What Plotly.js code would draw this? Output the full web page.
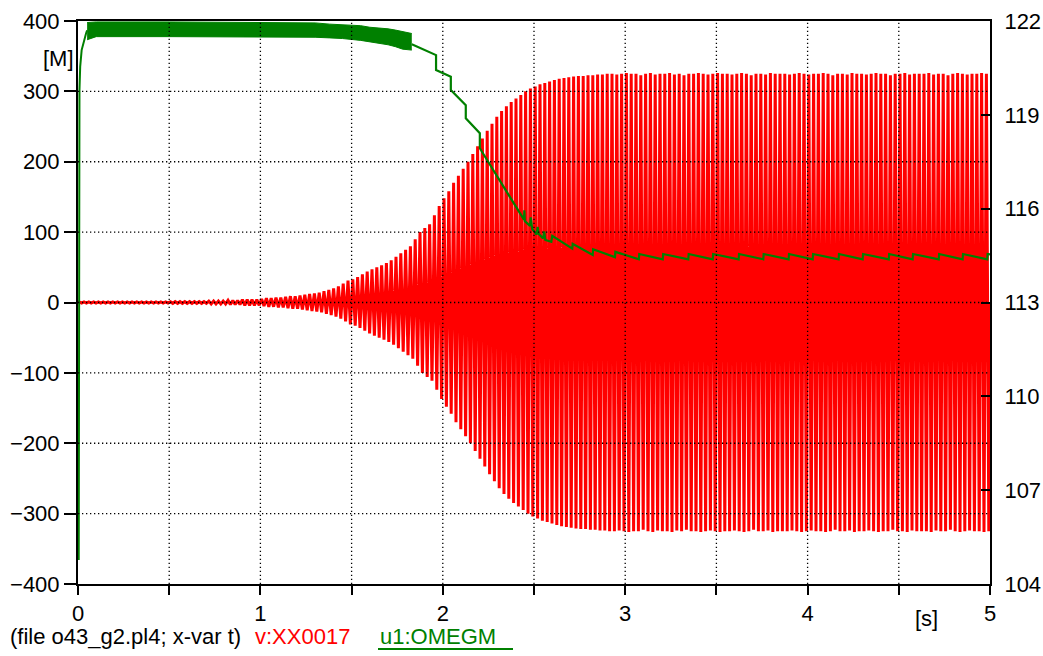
<!DOCTYPE html>
<html><head><meta charset="utf-8">
<script src="https://cdn.plot.ly/plotly-3.0.1.min.js"></script>
<style>html,body{margin:0;padding:0;background:#fff}#chart{width:1043px;height:656px}</style>
</head><body><div id="chart"></div>
<script>
// ---- axes ----
const tStart = 0, tEnd = 5;
const xTickVals = [0, 0.5, 1, 1.5, 2, 2.5, 3, 3.5, 4, 4.5, 5];
const xTickText = ['0', '', '1', '', '2', '', '3', '', '4', '', '5'];
const yTickVals = [-400, -300, -200, -100, 0, 100, 200, 300, 400];
const y2TickVals = [104, 107, 110, 113, 116, 119, 122];

// ---- v:XX0017 : peak amplitude of each oscillation cycle, read from the envelope ----
const vCycleAmp = [
  0.8,0.8,0.8,0.8,0.8,0.8,0.8,0.8,0.8,0.8,0.8,0.8,0.8,0.8,0.8,0.8,0.8,0.8,0.8,
  1.2,1.2,1.2,1.2,1.2,1.2,1.2,1.2,
  2,2,2,2, 3,3,3, 4,4,4,4,
  5,6,6,7, 7,8,9,9, 10,11,12,13, 14,16,18,
  20,23,27,31,33,36,40,44,47,50,
  53,56,60,65,70,75,80,90,100,106,
  111,124,137,148,158,170,180,190,200,211,
  222,233,244,254,264,272,279,285,290,295,
  300,304,307,310,312,314,316,318,319,320,
  321,322,
  322,323,323,324,324,325,
  325,324,325,326,325,325,323,325,326,324,
  325,325,326,324,325,323,325,325,326,325,
  324,325,326,325,325,324,325,326,325,323,
  325,325,324,326,325,325,325,324,325,326,
  325,324,325,325,326,325,323,325,325,324,
  326,325,325,324,325,326,325,325,323,325,
  325,326,324,325,325,325,326,324,325,325,
  323,325,326,325,324,325,325,326,325
];

// ---- u1:OMEGM (right axis) ----
const omegaRiseT = [0.004, 0.005, 0.008, 0.012, 0.02, 0.044, 0.05];
const omegaRiseV = [104.77, 119.15, 119.8, 120.54, 121.07, 121.6, 121.7];
// fast ripple band: upper and lower limits
const omegaBandT  = [0.05, 0.1, 0.5, 1.0, 1.3, 1.38, 1.45, 1.55, 1.6, 1.65, 1.7, 1.74, 1.78, 1.83];
const omegaBandHi = [121.95, 121.97, 121.97, 121.96, 121.94, 121.9, 121.88, 121.85, 121.8, 121.78, 121.75, 121.71, 121.66, 121.6];
const omegaBandLo = [121.4, 121.5, 121.5, 121.5, 121.48, 121.46, 121.44, 121.38, 121.34, 121.3, 121.24, 121.18, 121.1, 121.07];
const omegaTailT = [1.83, 1.963, 1.963, 2.044, 2.044, 2.126, 2.126, 2.203, 2.203, 2.445, 2.447, 2.45, 2.478, 2.482, 2.49,
  2.514, 2.52, 2.525, 2.55, 2.556, 2.562, 2.595, 2.6, 2.71, 2.712, 2.822, 2.824, 2.944, 2.946, 3.075, 3.077,
  3.206, 3.208, 3.346, 3.348, 3.48, 3.482, 3.622, 3.624, 3.757, 3.759, 3.896, 3.898, 4.028, 4.03,
  4.17, 4.172, 4.302, 4.304, 4.445, 4.447, 4.576, 4.578, 4.719, 4.721, 4.85, 4.852, 4.985, 4.987, 5.0];
const omegaTailV = [121.26, 120.91, 120.43, 120.22, 119.79, 119.31, 118.89, 118.41, 117.93, 115.65, 115.95, 115.6, 115.45, 115.72, 115.35,
  115.17, 115.42, 115.2, 115.05, 115.27, 115.0, 114.94, 115.13, 114.72, 114.88, 114.52, 114.7, 114.45, 114.62, 114.38, 114.55,
  114.38, 114.55, 114.38, 114.55, 114.38, 114.55, 114.38, 114.55, 114.38, 114.55, 114.38, 114.55, 114.38, 114.55,
  114.38, 114.55, 114.38, 114.55, 114.38, 114.55, 114.38, 114.55, 114.38, 114.55, 114.38, 114.55, 114.38, 114.55, 114.54];

// ---- build the oscillating trace from cycle amplitudes ----
const nC = vCycleAmp.length, per = (tEnd - tStart) / nC;
const vT = [tStart], vV = [0];
vCycleAmp.forEach((a, k) => {
  vT.push(tStart + (k + 0.25) * per); vV.push(a);
  vT.push(tStart + (k + 0.75) * per); vV.push(-a);
});
vT.push(tEnd); vV.push(0);

const RED = '#ff0000', GREEN = '#008000';
const traces = [
  {x: vT, y: vV, type: 'scatter', mode: 'lines', line: {color: RED, width: 3}, hoverinfo: 'skip'},
  {x: omegaRiseT, y: omegaRiseV, yaxis: 'y2', type: 'scatter', mode: 'lines', line: {color: GREEN, width: 2}, hoverinfo: 'skip'},
  {x: omegaBandT, y: omegaBandLo, yaxis: 'y2', type: 'scatter', mode: 'lines', line: {color: GREEN, width: 1}, hoverinfo: 'skip'},
  {x: omegaBandT, y: omegaBandHi, yaxis: 'y2', type: 'scatter', mode: 'lines', fill: 'tonexty', fillcolor: GREEN, line: {color: GREEN, width: 1}, hoverinfo: 'skip'},
  {x: omegaTailT, y: omegaTailV, yaxis: 'y2', type: 'scatter', mode: 'lines', line: {color: GREEN, width: 2.2}, hoverinfo: 'skip'}
];

// plot box in pixels
const L = 78, R = 53, T = 21, B = 72, W = 1043, H = 656;
const pw = W - L - R, ph = H - T - B;
const px = x => (x - L) / pw;
const py = y => (H - B - y) / ph;

const gridLine = {color: '#000', width: 1.3, dash: '1.3px,2.7px'};
const shapes = [];
xTickVals.slice(1, -1).forEach(v => shapes.push({type: 'line', xref: 'x', yref: 'paper', x0: v, x1: v, y0: 0, y1: 1, line: gridLine, layer: 'above'}));
yTickVals.slice(1, -1).forEach(v => shapes.push({type: 'line', xref: 'paper', yref: 'y', x0: 0, x1: 1, y0: v, y1: v, line: gridLine, layer: 'above'}));
shapes.push({type: 'line', xref: 'paper', yref: 'paper', x0: px(378), x1: px(513), y0: py(649), y1: py(649), line: {color: GREEN, width: 2}});

const fnt = {family: 'Liberation Sans, Arial, sans-serif', size: 22, color: '#000'};
const annotations = [
  {text: '[M]', xref: 'paper', yref: 'paper', x: px(58), y: py(58), xanchor: 'center', yanchor: 'middle', showarrow: false, font: fnt},
  {text: '[s]', xref: 'paper', yref: 'paper', x: px(926), y: py(618), xanchor: 'center', yanchor: 'middle', showarrow: false, font: fnt},
  {text: '(file o43_g2.pl4; x-var t)', xref: 'paper', yref: 'paper', x: px(8), y: py(636), xanchor: 'left', yanchor: 'middle', showarrow: false, font: fnt},
  {text: 'v:XX0017', xref: 'paper', yref: 'paper', x: px(253), y: py(636), xanchor: 'left', yanchor: 'middle', showarrow: false, font: Object.assign({}, fnt, {color: RED})},
  {text: 'u1:OMEGM', xref: 'paper', yref: 'paper', x: px(378), y: py(636), xanchor: 'left', yanchor: 'middle', showarrow: false, font: Object.assign({}, fnt, {color: GREEN})}
];

const axisCommon = {showline: true, linewidth: 2, linecolor: '#000', tickcolor: '#000', tickwidth: 2,
  showgrid: false, zeroline: false, layer: 'above traces', fixedrange: true, tickfont: fnt};

const layout = {
  width: W, height: H, margin: {l: L, r: R, t: T, b: B, pad: 0},
  paper_bgcolor: '#fff', plot_bgcolor: '#fff', showlegend: false, font: fnt,
  xaxis: Object.assign({}, axisCommon, {range: [tStart, tEnd], tickmode: 'array', tickvals: xTickVals, ticktext: xTickText, ticks: 'outside', ticklen: 9, mirror: true}),
  yaxis: Object.assign({}, axisCommon, {range: [-400, 400], tickmode: 'array', tickvals: yTickVals, ticks: 'outside', ticklen: 12}),
  yaxis2: Object.assign({}, axisCommon, {overlaying: 'y', side: 'right', range: [104, 122], tickmode: 'array', tickvals: y2TickVals, ticks: 'inside', ticklen: 9, ticklabelstandoff: 8}),
  shapes: shapes, annotations: annotations
};

Plotly.newPlot('chart', traces, layout, {staticPlot: true, displayModeBar: false});
</script>
</body></html>
